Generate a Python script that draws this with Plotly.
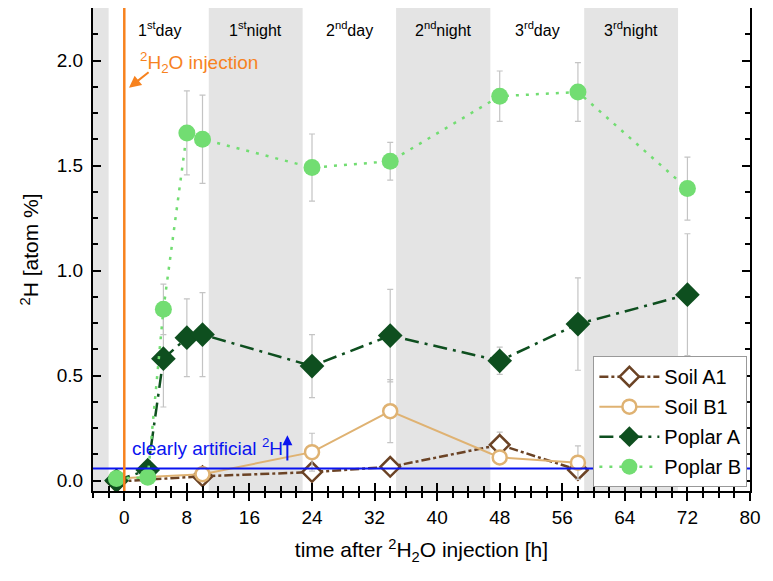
import plotly.graph_objects as go

# ---------------- data ----------------
soil_a1_x = [-1, 10, 24, 34, 48, 58]
soil_a1_y = [-0.005, 0.02, 0.04, 0.065, 0.17, 0.05]
soil_a1_err = [0.005, 0.01, 0.01, 0.01, 0.06, 0.02]

soil_b1_x = [-1, 10, 24, 34, 48, 58]
soil_b1_y = [0.01, 0.03, 0.135, 0.33, 0.11, 0.085]
soil_b1_err = [0.005, 0.01, 0.09, 0.15, 0.03, 0.08]

poplar_a_x = [-1, 3, 5, 8, 10, 24, 34, 48, 58, 72]
poplar_a_y = [0.0, 0.05, 0.58, 0.68, 0.695, 0.545, 0.69, 0.57, 0.745, 0.885]
poplar_a_err = [0.01, 0.02, 0.23, 0.185, 0.2, 0.15, 0.22, 0.065, 0.22, 0.29]

poplar_b_x = [-1, 3, 5, 8, 10, 24, 34, 48, 58, 72]
poplar_b_y = [0.01, 0.015, 0.815, 1.655, 1.625, 1.49, 1.52, 1.83, 1.85, 1.39]
poplar_b_err = [0.01, 0.01, 0.12, 0.2, 0.21, 0.16, 0.09, 0.12, 0.14, 0.15]

night_start = [-4, 10.8, 34.75, 58.8]
night_end = [-2, 22.8, 46.8, 70.8]
period_labels = ["1<sup>st</sup>day", "1<sup>st</sup>night", "2<sup>nd</sup>day",
                 "2<sup>nd</sup>night", "3<sup>rd</sup>day", "3<sup>rd</sup>night"]
period_centers = [4.5, 16.8, 28.75, 40.75, 52.8, 64.8]

threshold = 0.057
injection_time = 0

FONT = "Liberation Sans, Arial, sans-serif"
ERRC = "#c4c4c4"

fig = go.Figure()

def add_series(name, x, y, err, color, dash, symbol, size, fill, lw=2.5):
    fig.add_trace(go.Scatter(
        x=x, y=y, name=name, mode="lines+markers", legendgroup=name,
        line=dict(color=color, width=lw, dash=dash),
        marker=dict(symbol=symbol, size=size,
                    color=fill if fill else "white",
                    line=dict(color=color, width=0 if fill else 2.5)),
        error_y=dict(type="data", array=err, color=ERRC, thickness=1.2, width=3),
    ))

add_series("Soil A1", soil_a1_x, soil_a1_y, soil_a1_err, "#6b4325", "dashdot", "diamond", 15, None)
add_series("Soil B1", soil_b1_x, soil_b1_y, soil_b1_err, "#dfb272", "solid", "circle", 14, None, lw=2)
add_series("Poplar A", poplar_a_x, poplar_a_y, poplar_a_err, "#0e4f1f", "14px,6px,3px,6px", "diamond", 19, "#0e4f1f")
add_series("Poplar B", poplar_b_x, poplar_b_y, poplar_b_err, "#72dd72", "3px,7px", "circle", 17, "#72dd72")

# invisible trace on overlay axis (for crossing ticks)
fig.add_trace(go.Scatter(x=[-4, 80], y=[0, 0], xaxis="x2", mode="markers",
                         marker=dict(opacity=0), showlegend=False, hoverinfo="skip"))

# night bands
for s, e in zip(night_start, night_end):
    fig.add_shape(type="rect", xref="x", yref="paper", x0=s, x1=e, y0=0, y1=1,
                  fillcolor="#e4e4e4", line=dict(width=0), layer="below")

# threshold line
fig.add_shape(type="line", xref="paper", yref="y", x0=0, x1=1, y0=threshold, y1=threshold,
              line=dict(color="#0a14f0", width=2))
# injection line
fig.add_shape(type="line", xref="x", yref="paper", x0=injection_time, x1=injection_time, y0=0, y1=1,
              line=dict(color="#f7821e", width=2.5))

for lab, c in zip(period_labels, period_centers):
    fig.add_annotation(x=c, y=2.148, text=lab, showarrow=False,
                       font=dict(family=FONT, size=16, color="black"))

fig.add_annotation(x=0.6, y=1.87, ax=3.3, ay=1.95, xref="x", yref="y", axref="x", ayref="y",
                   text="", showarrow=True, arrowhead=2, arrowsize=1.2, arrowwidth=2,
                   arrowcolor="#f7821e")
fig.add_annotation(x=1.8, y=1.99, text="<sup>2</sup>H<sub>2</sub>O injection", showarrow=False,
                   xanchor="left", font=dict(family=FONT, size=19, color="#f7821e"))

fig.add_annotation(x=20.85, y=0.215, ax=20.85, ay=0.088, xref="x", yref="y", axref="x", ayref="y",
                   text="", showarrow=True, arrowhead=2, arrowsize=1, arrowwidth=2,
                   arrowcolor="#0a14f0")
fig.add_annotation(x=0.7, y=0.16, text="clearly artificial <sup>2</sup>H", showarrow=False,
                   xanchor="left", font=dict(family=FONT, size=19, color="#0a14f0"))

fig.update_layout(
    width=765, height=573,
    margin=dict(l=85, r=23, t=0, b=90, autoexpand=False),
    paper_bgcolor="white", plot_bgcolor="white",
    font=dict(family=FONT, size=19, color="black"),
    xaxis=dict(range=[-4, 80], tick0=0, dtick=8, ticks="outside", ticklen=8, tickwidth=1.5,
               tickcolor="black", showline=True, linecolor="black", linewidth=2, mirror=True,
               showgrid=False, zeroline=False, automargin=True,
               minor=dict(dtick=2, ticks="outside", ticklen=5, tickcolor="black", tickwidth=1.5),
               tickfont=dict(size=19),
               title=dict(text="time after <sup>2</sup>H<sub>2</sub>O injection [h]",
                          font=dict(size=21), standoff=16)),
    xaxis2=dict(range=[-4, 80], tick0=0, dtick=8, overlaying="x", anchor="y", side="bottom",
                ticks="inside", ticklen=8, tickwidth=1.5, tickcolor="black",
                showticklabels=False, showline=False, showgrid=False, zeroline=False,
                minor=dict(dtick=2, ticks="inside", ticklen=5, tickcolor="black", tickwidth=1.5)),
    yaxis=dict(range=[-0.05, 2.25], tick0=0, dtick=0.5, tickformat=".1f", ticks="inside",
               ticklen=8, tickwidth=1.5, tickcolor="black", showline=True, linecolor="black",
               linewidth=2, mirror="ticks", showgrid=False, zeroline=False, automargin=True,
               minor=dict(dtick=0.125, ticks="inside", ticklen=5, tickcolor="black", tickwidth=1.5),
               tickfont=dict(size=19), ticklabelstandoff=4,
               title=dict(text="<sup>2</sup>H [atom %]", font=dict(size=21), standoff=12)),
    legend=dict(x=0.996, y=0.008, xanchor="right", yanchor="bottom",
                bgcolor="white", bordercolor="#999999", borderwidth=1,
                font=dict(size=20), traceorder="grouped", tracegroupgap=1,
                itemwidth=60),
    showlegend=True,
)

fig.write_html("out.html")
